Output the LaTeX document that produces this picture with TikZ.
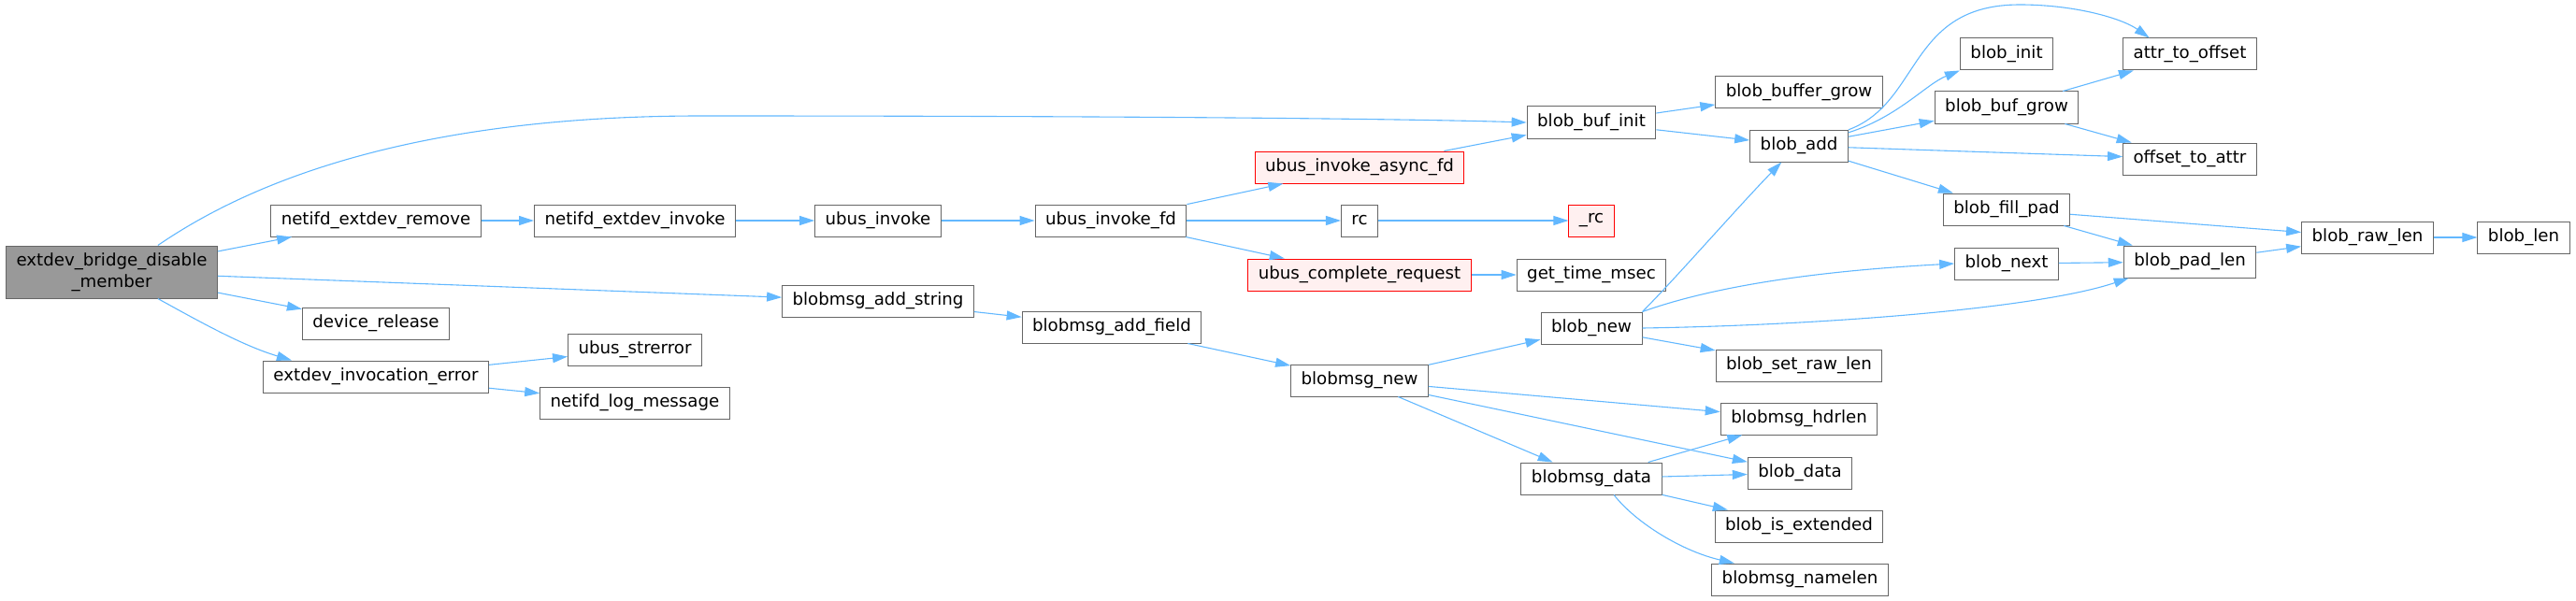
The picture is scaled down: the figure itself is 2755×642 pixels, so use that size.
\documentclass[tikz,border=0pt]{standalone}
\usepackage{fontspec}
\setmainfont{DejaVu Sans}
\usetikzlibrary{arrows.meta}
\definecolor{callblue}{HTML}{63B8FF}
\definecolor{boxgrey}{HTML}{666666}
\definecolor{maingrey}{HTML}{999999}
\definecolor{redfill}{HTML}{FFF0F0}

\begin{document}
\begin{tikzpicture}[x=0.5pt,y=-0.5pt,
    fn/.style={draw=boxgrey,fill=white,line width=0.5pt,minimum height=17pt,
      inner xsep=5.5pt,inner ysep=0pt,font=\fontsize{9.1}{11.3}\selectfont},
    mainfn/.style={fn,fill=maingrey,align=center,minimum height=28pt},
    redfn/.style={fn,draw=red,fill=redfill},
    call/.style={draw=callblue,line width=0.55pt,-{Triangle[length=8pt,width=5pt]}}
  ]
  \useasboundingbox (0,0) rectangle (2755,642);

  \node[mainfn] (main) at (119.5,291) {extdev\_bridge\_disable\\\_member};
  \node[fn] (nrem) at (402,236) {netifd\_extdev\_remove};
  \node[fn] (dev)  at (402,346) {device\_release};
  \node[fn] (eie)  at (402,403) {extdev\_invocation\_error};
  \node[fn] (ninv) at (679,236) {netifd\_extdev\_invoke};
  \node[fn] (ustr) at (679,374) {ubus\_strerror};
  \node[fn] (nlog) at (679,431) {netifd\_log\_message};
  \node[fn] (uinv) at (939,236) {ubus\_invoke};
  \node[fn] (bas)  at (939,322) {blobmsg\_add\_string};
  \node[fn] (ufd)  at (1188,236) {ubus\_invoke\_fd};
  \node[fn] (baf)  at (1189,350) {blobmsg\_add\_field};
  \node[redfn] (async) at (1454,179) {ubus\_invoke\_async\_fd};
  \node[fn] (rc)   at (1454,236) {rc};
  \node[redfn] (ucr) at (1454,294) {ubus\_complete\_request};
  \node[fn] (bmnew) at (1454,407) {blobmsg\_new};
  \node[fn] (bbi)  at (1702,131) {blob\_buf\_init};
  \node[redfn] (urc) at (1702,236) {\_rc};
  \node[fn] (gtm)  at (1702,294) {get\_time\_msec};
  \node[fn] (bnew) at (1702,351) {blob\_new};
  \node[fn] (bmd)  at (1702,512) {blobmsg\_data};
  \node[fn] (bbg)  at (1924,99) {blob\_buffer\_grow};
  \node[fn] (badd) at (1924,156) {blob\_add};
  \node[fn] (bsrl) at (1924,391) {blob\_set\_raw\_len};
  \node[fn] (bhdr) at (1924,448) {blobmsg\_hdrlen};
  \node[fn] (bdata) at (1925,506) {blob\_data};
  \node[fn] (bext) at (1924,563) {blob\_is\_extended};
  \node[fn] (bnml) at (1925,620) {blobmsg\_namelen};
  \node[fn] (binit) at (2146,58) {blob\_init};
  \node[fn] (bgrow) at (2146,115) {blob\_buf\_grow};
  \node[fn] (bfill) at (2146,224) {blob\_fill\_pad};
  \node[fn] (bnext) at (2146,282) {blob\_next};
  \node[fn] (ato)  at (2342,58) {attr\_to\_offset};
  \node[fn] (ota)  at (2342,170) {offset\_to\_attr};
  \node[fn] (bpad) at (2342,280) {blob\_pad\_len};
  \node[fn] (braw) at (2532,254) {blob\_raw\_len};
  \node[fn] (blen) at (2699,254) {blob\_len};

  % calls out of the main function
  \draw[call] (main.30) .. controls (260,200) and (430,124) .. (750,124)
    .. controls (1200,124) and (1500,127) .. (bbi.west);
  \draw[call] (main) -- (nrem);
  \draw[call] (main) -- (bas);
  \draw[call] (main) -- (dev);
  \draw[call] (main.-30) .. controls (215,345) and (260,370) .. (eie.169);
  \draw[call] (nrem) -- (ninv);
  \draw[call] (eie) -- (ustr);
  \draw[call] (eie) -- (nlog);
  \draw[call] (ninv) -- (uinv);
  \draw[call] (uinv) -- (ufd);
  \draw[call] (ufd) -- (async);
  \draw[call] (ufd) -- (rc);
  \draw[call] (ufd) -- (ucr);
  \draw[call] (async) -- (bbi);
  \draw[call] (rc) -- (urc);
  \draw[call] (ucr) -- (gtm);
  \draw[call] (bas) -- (baf);
  \draw[call] (baf) -- (bmnew);
  \draw[call] (bmnew) -- (bnew);
  \draw[call] (bmnew) -- (bhdr);
  \draw[call] (bmnew) -- (bdata);
  \draw[call] (bmnew) -- (bmd);
  % blob helpers
  \draw[call] (bbi) -- (bbg);
  \draw[call] (bbi) -- (badd);
  \draw[call] (bnew.north east) .. controls (1790,300) and (1860,220) .. (badd.-137);
  \draw[call] (bnew.north east) .. controls (1850,300) and (1980,288) .. (bnext.west);
  \draw[call] (bnew.east) .. controls (1950,348) and (2180,330) .. (bpad.-165);
  \draw[call] (bnew) -- (bsrl);
  \draw[call] (bmd) -- (bhdr);
  \draw[call] (bmd) -- (bdata);
  \draw[call] (bmd) -- (bext);
  \draw[call] (bmd.-36) .. controls (1750,560) and (1800,590) .. (bnml.166);
  \draw[call] (badd.15) .. controls (2030,125) and (2060,90) .. (binit.south west);
  \draw[call] (badd.18) .. controls (2055,110) and (2040,5) .. (2160,5)
    .. controls (2220,5) and (2270,20) .. (ato.158);
  \draw[call] (badd) -- (bgrow);
  \draw[call] (badd) -- (ota);
  \draw[call] (badd) -- (bfill);
  \draw[call] (bgrow) -- (ato);
  \draw[call] (bgrow) -- (ota);
  \draw[call] (bfill) -- (braw);
  \draw[call] (bfill) -- (bpad);
  \draw[call] (bnext) -- (bpad);
  \draw[call] (bpad) -- (braw);
  \draw[call] (braw) -- (blen);
\end{tikzpicture}
\end{document}
